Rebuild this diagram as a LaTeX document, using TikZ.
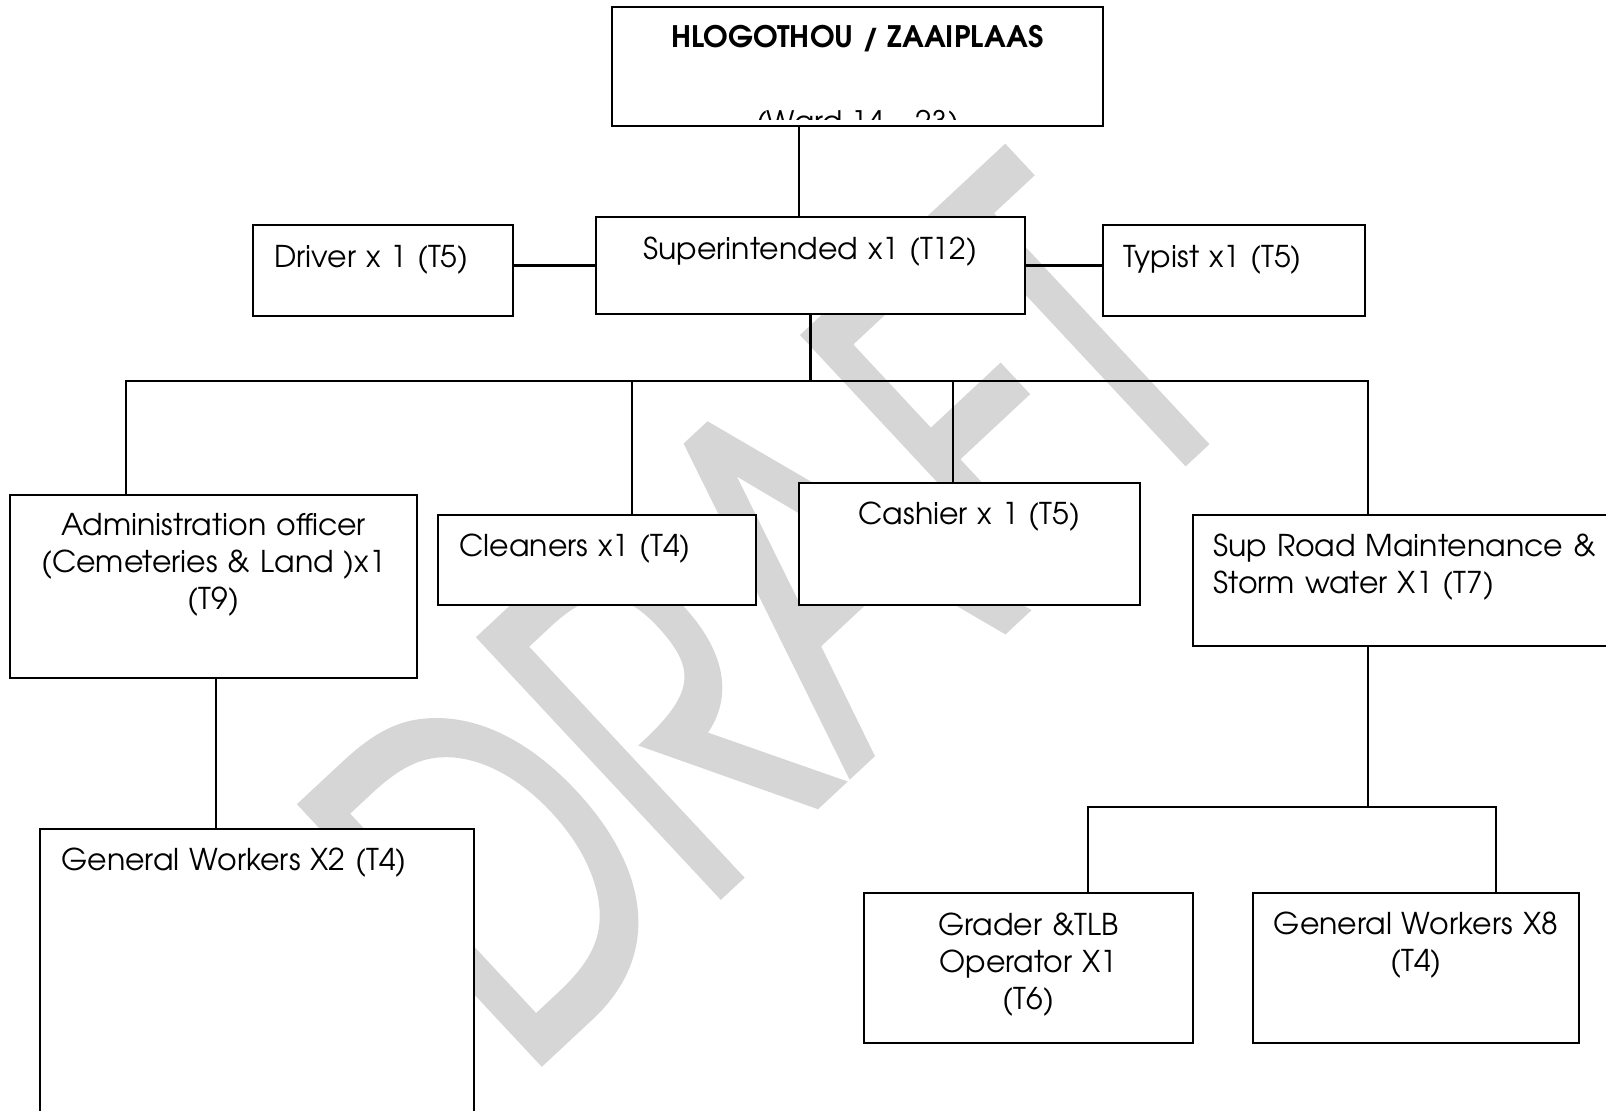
\documentclass[tikz,border=0pt]{standalone}
\usepackage{fontspec}
\setmainfont{TeX Gyre Adventor}
\newfontfamily\wmfont[FakeBold=2.5]{TeX Gyre Adventor}
\usetikzlibrary{calc}
\begin{document}
\begin{tikzpicture}[x=0.5pt,y=-0.5pt,
  box/.style={draw=black, line width=1.1pt, fill=white, inner sep=0pt, outer sep=0pt, anchor=north west},
  wh/.style 2 args={minimum width=#1*0.5pt, minimum height=#2*0.5pt},
  wire/.style={draw=black, line width=1.1pt},
  lbl/.style={inner sep=0pt, font=\fontsize{15}{18.5}\selectfont, anchor=base, align=center, text width=#1*0.5pt},
  lbll/.style={inner sep=0pt, font=\fontsize{15}{18.5}\selectfont, anchor=base west, align=left, text width=#1*0.5pt},
]
\useasboundingbox (0,0) rectangle (1606,1110);
\begin{scope}
\clip (0,0) rectangle (1606,1110);

% watermark
\node[rotate=43, xscale=0.7, text=black!16, inner sep=0pt, anchor=base east,
      font=\wmfont\fontsize{235}{235}\selectfont] (wm) at (1245,403) {DRAFT};

% connector coordinates
\coordinate (xa) at (799,0);
\coordinate (busL) at (126,381);
\coordinate (busR) at (1368,381);
\coordinate (xc) at (632,0);
\coordinate (xk) at (953,0);
\coordinate (xg) at (216,0);
\coordinate (b2) at (1368,807);
\coordinate (xr) at (1088,0);
\coordinate (xw) at (1496,0);

% boxes
\node[box, wh={491}{119}] (top) at (612,7) {};
\node[box, wh={429}{97}]  (sup) at (596,217) {};
\node[box, wh={260}{91}]  (drv) at (253,225) {};
\node[box, wh={262}{91}]  (typ) at (1103,225) {};
\node[box, wh={407}{183}] (adm) at (10,495) {};
\node[box, wh={318}{90}]  (cln) at (438,515) {};
\node[box, wh={341}{122}] (csh) at (799,483) {};
\node[box, wh={440}{131}] (srm) at (1193,515) {};
\node[box, wh={434}{300}] (gw2) at (40,829) {};
\node[box, wh={329}{150}] (grd) at (864,893) {};
\node[box, wh={326}{150}] (gw8) at (1253,893) {};

% connectors
\draw[wire] (top.south -| xa) -- (sup.north -| xa);
\draw[wire] (sup.west) -- (drv.east |- sup.west);
\draw[wire] (sup.east) -- (typ.west |- sup.east);
\draw[wire] (sup.south) -- (sup.south |- busL);
\draw[wire] (adm.north -| busL) -- (busL) -- (busR) -- (srm.north -| busR);
\draw[wire] (cln.north -| xc) -- (xc |- busL);
\draw[wire] (csh.north -| xk) -- (xk |- busL);
\draw[wire] (adm.south -| xg) -- (gw2.north -| xg);
\draw[wire] (srm.south -| b2) -- (b2);
\draw[wire] (grd.north -| xr) -- (xr |- b2) -- (xw |- b2) -- (gw8.north -| xw);

% texts
\node[inner sep=0pt, anchor=base, font=\bfseries\fontsize{14.8}{17}\selectfont] (hd) at ($(top.north)+(0,40)$) {HLOGOTHOU / ZAAIPLAAS};
\begin{scope}
  \clip ($(top.north west)+(2,2)$) rectangle ($(top.north east)+(-2,112)$);
  \node[inner sep=0pt, anchor=base, font=\fontsize{14.8}{17}\selectfont] (wd) at ($(top.north)+(0,125)$) {(Ward 14 – 23)};
\end{scope}
\node[lbl=420] (supT) at ($(sup.north)+(0,42)$) {Superintended x1 (T12)};
\node[lbll=240] (drvT) at ($(drv.north west)+(21,42)$) {Driver x 1 (T5)};
\node[lbll=240] (typT) at ($(typ.north west)+(20,42)$) {Typist x1 (T5)};
\node[lbl=400] (admT) at ($(adm.north)+(0,40)$) {Administration officer\\(Cemeteries \& Land )x1\\(T9)};
\node[lbll=290] (clnT) at ($(cln.north west)+(21,41)$) {Cleaners x1 (T4)};
\node[lbl=330] (cshT) at ($(csh.north)+(0,41)$) {Cashier x 1 (T5)};
\node[lbll=420] (srmT) at ($(srm.north west)+(20,41)$) {Sup Road Maintenance \&\\Storm water X1 (T7)};
\node[lbll=410] (gw2T) at ($(gw2.north west)+(21,41)$) {General Workers X2 (T4)};
\node[lbl=320] (grdT) at ($(grd.north)+(0,42)$) {Grader \&TLB\\Operator X1\\(T6)};
\node[lbl=320] (gw8T) at ($(gw8.north)+(0,41)$) {General Workers X8\\(T4)};
\end{scope}
\end{tikzpicture}
\end{document}
